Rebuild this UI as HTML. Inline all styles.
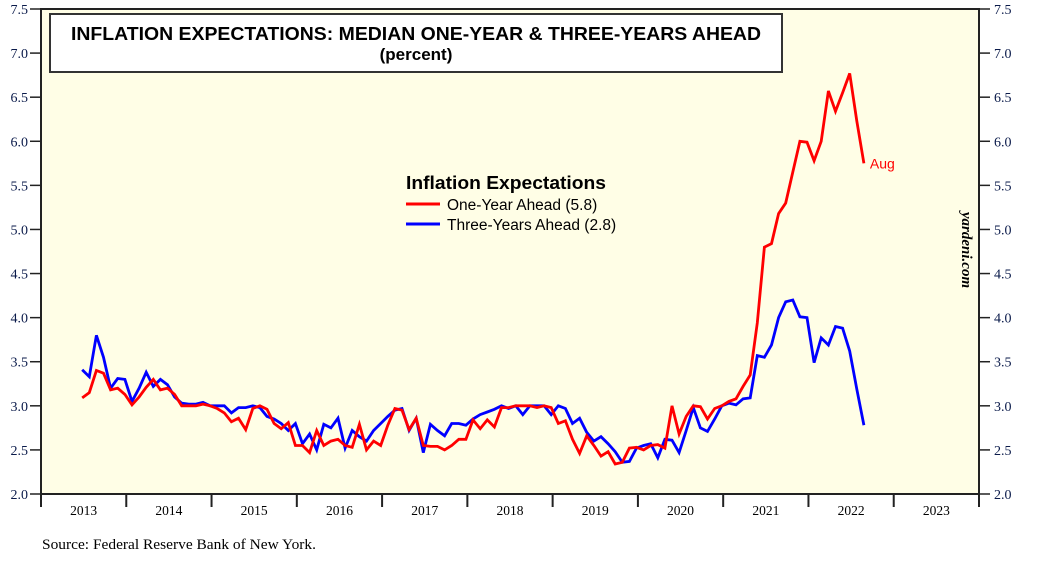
<!DOCTYPE html>
<html><head><meta charset="utf-8">
<style>
html,body{margin:0;padding:0;background:#fff;}
body{width:1058px;height:565px;overflow:hidden;position:relative;font-family:"Liberation Sans",sans-serif;}
svg{position:absolute;left:0;top:0;}
</style></head>
<body>
<svg width="1058" height="565" viewBox="0 0 1058 565">
<rect x="41" y="9" width="938" height="485" fill="#fffee6" stroke="#222" stroke-width="2"/>
<g id="axes"></g>
<g id="series"></g>
<g>
<rect x="50" y="14" width="732" height="58" fill="#fff" stroke="#333" stroke-width="2"/>
<text x="416" y="40" text-anchor="middle" font-size="18.5" font-weight="bold" fill="#000" textLength="690" lengthAdjust="spacingAndGlyphs">INFLATION EXPECTATIONS: MEDIAN ONE-YEAR &amp; THREE-YEARS AHEAD</text>
<text x="416" y="60" text-anchor="middle" font-size="17" font-weight="bold" fill="#000">(percent)</text>
</g>
<g>
<text x="406" y="189" font-size="18.5" font-weight="bold" textLength="200" lengthAdjust="spacingAndGlyphs">Inflation Expectations</text>
<g><line x1="406" y1="204" x2="440" y2="204" stroke="#f00" stroke-width="3"/><text x="447" y="210" font-size="15.5">One-Year Ahead (5.8)</text></g>
<g><line x1="406" y1="224" x2="440" y2="224" stroke="#00f" stroke-width="3"/><text x="447" y="230" font-size="15.5">Three-Years Ahead (2.8)</text></g>
</g>
<text transform="translate(962,250) rotate(90)" text-anchor="middle" font-family="Liberation Serif,serif" font-style="italic" font-weight="bold" font-size="15">yardeni.com</text>
<text x="42" y="549" font-family="Liberation Serif,serif" font-size="14.5" textLength="274" lengthAdjust="spacingAndGlyphs">Source: Federal Reserve Bank of New York.</text>
</svg>
<script>
const yTicks=[2.0,2.5,3.0,3.5,4.0,4.5,5.0,5.5,6.0,6.5,7.0,7.5];
const years=[2013,2014,2015,2016,2017,2018,2019,2020,2021,2022,2023];
const startYear=2013, startMonth=5; // Jun 2013
const oneYear=[3.09,3.15,3.40,3.37,3.18,3.20,3.13,
3.01,3.10,3.21,3.30,3.18,3.20,3.13,3.00,3.00,3.00,3.02,3.00,
2.97,2.92,2.82,2.86,2.73,2.97,3.00,2.96,2.80,2.74,2.81,2.55,
2.55,2.47,2.72,2.55,2.60,2.62,2.55,2.53,2.79,2.50,2.60,2.55,
2.78,2.97,2.95,2.73,2.86,2.55,2.54,2.54,2.50,2.55,2.62,2.62,
2.84,2.74,2.84,2.76,2.98,2.98,3.00,3.00,3.00,2.98,3.00,2.98,
2.80,2.83,2.62,2.46,2.66,2.55,2.43,2.48,2.34,2.36,2.52,2.53,
2.50,2.55,2.56,2.52,3.00,2.68,2.88,3.00,2.99,2.85,2.97,3.00,
3.05,3.08,3.22,3.35,3.94,4.80,4.84,5.18,5.30,5.65,6.00,5.99,
5.78,6.00,6.57,6.34,6.55,6.77,6.23,5.75];
const threeYear=[3.41,3.33,3.80,3.55,3.20,3.31,3.30,
3.05,3.20,3.38,3.22,3.30,3.24,3.10,3.03,3.02,3.02,3.04,3.00,
3.00,3.00,2.92,2.98,2.98,3.00,2.98,2.88,2.85,2.80,2.72,2.80,
2.57,2.68,2.50,2.79,2.75,2.86,2.52,2.72,2.65,2.60,2.72,2.80,
2.88,2.95,2.97,2.72,2.86,2.47,2.79,2.72,2.66,2.80,2.80,2.78,
2.85,2.90,2.93,2.96,3.00,2.97,3.00,2.90,3.00,3.00,3.00,2.90,
3.00,2.97,2.80,2.86,2.70,2.60,2.65,2.57,2.48,2.36,2.37,2.52,
2.55,2.57,2.41,2.62,2.61,2.47,2.72,2.98,2.75,2.71,2.85,3.00,
3.03,3.01,3.08,3.09,3.57,3.55,3.69,4.00,4.18,4.20,4.01,4.00,
3.49,3.77,3.69,3.90,3.88,3.62,3.19,2.78];
const X0=41, X1=979, Y0=494, Y1=9;
function xScale(yearFrac){return X0+(yearFrac-2013)/11*(X1-X0);}
function yScale(v){return Y0-(v-2)/5.5*(Y0-Y1);}
function xMonth(i){const m=startMonth+i;return xScale(startYear+(m+0.8)/12);}
const NS="http://www.w3.org/2000/svg";
const axes=document.getElementById('axes');
function mk(tag,attrs,parent){const e=document.createElementNS(NS,tag);for(const k in attrs)e.setAttribute(k,attrs[k]);parent.appendChild(e);return e;}
yTicks.forEach(v=>{
  const y=yScale(v);
  const t1=mk('line',{x1:30,x2:41,y1:y,y2:y,stroke:'#222','stroke-width':1.5},axes);
  
  
  const t2=mk('line',{x1:979,x2:990,y1:y,y2:y,stroke:'#222','stroke-width':1.5},axes);
  
  
  const l=mk('text',{x:28,y:y+5,'text-anchor':'end','font-family':'Liberation Serif,serif','font-size':14,fill:'#0a1a4a'},axes);
  l.textContent=v.toFixed(1);
  
  
  const r=mk('text',{x:994,y:y+5,'font-family':'Liberation Serif,serif','font-size':14,fill:'#0a1a4a'},axes);
  r.textContent=v.toFixed(1);
  
  
});
for(let k=0;k<=years.length;k++){
  const x=xScale(2013+k);
  const t=mk('line',{x1:x,x2:x,y1:494,y2:507,stroke:'#222','stroke-width':2},axes);
  
  
}
years.forEach(yr=>{
  const l=mk('text',{x:xScale(yr+0.5),y:515,'text-anchor':'middle','font-family':'Liberation Serif,serif','font-size':13.5,fill:'#000'},axes);
  l.textContent=yr;
  
  
});
const series=document.getElementById('series');
function line(vals,color,name){
  const d=vals.map((v,i)=>(i?'L':'M')+xMonth(i).toFixed(1)+','+yScale(v).toFixed(1)).join('');
  const p=mk('path',{d:d,fill:'none',stroke:color,'stroke-width':2.8,'stroke-linejoin':'miter'},series);
  
  
}
line(threeYear,'#0000ff','three-years-ahead-line');
line(oneYear,'#ff0000','one-year-ahead-line');
const li=oneYear.length-1;
const a=mk('text',{x:xMonth(li)+6,y:yScale(oneYear[li])+5,'font-size':14,fill:'#f00'},series);
a.textContent='Aug';


</script>
</body></html>
